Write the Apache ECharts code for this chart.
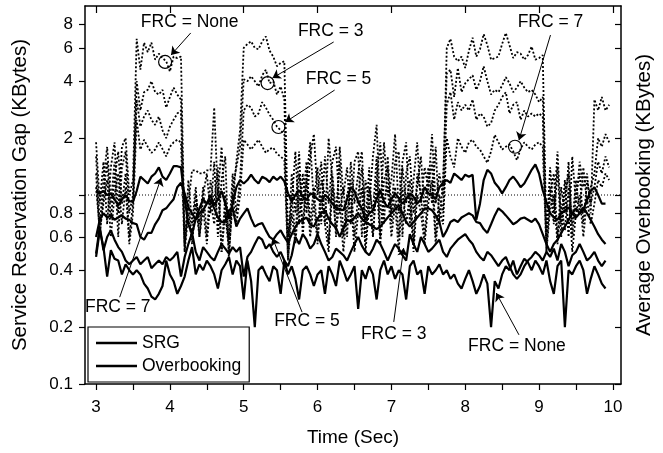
<!DOCTYPE html>
<html>
<head>
<meta charset="utf-8">
<script src="https://cdn.jsdelivr.net/npm/echarts@6.0.0/dist/echarts.min.js"></script>
<style>
  html, body { margin: 0; padding: 0; background: #fff; }
  #container { width: 663px; height: 453px; }
</style>
</head>
<body>
<div id="container"></div>
<script>
// sample times (Sec), one every 0.05 s from 3.00 to 9.95
var times = [];
for (var i = 0; i < 140; i++) times.push(Math.round((3 + i * 0.05) * 100) / 100);

// Overbooking (dotted), one row = 0.5 s
var ovNone = [
  1.9, 0.9, 1.5, 0.7, 1.4, 1.9, 0.8, 1.8, 2.0, 1.0,
  1.2, 6.7, 4.6, 6.4, 5.7, 6.4, 5.2, 5.6, 5.3, 5.1,
  4.5, 5.4, 5.3, 5.4, 0.55, 0.9, 1.35, 1.35, 1.3, 1.3,
  1.35, 1.35, 2.9, 1.0, 1.8, 0.8, 0.5, 0.9, 1.5, 2.2,
  6.0, 6.3, 6.5, 6.0, 5.9, 6.5, 6.9, 5.8, 5.4, 4.8,
  5.0, 5.1, 0.6, 0.9, 1.7, 0.7, 1.3, 0.8, 1.6, 2.1,
  1.0, 1.5, 0.7, 2.0, 1.2, 0.6, 1.8, 1.0, 1.4, 0.7,
  1.5, 1.7, 0.6, 1.2, 0.9, 1.6, 2.35, 0.8, 1.9, 1.0,
  1.2, 2.1, 0.8, 1.5, 1.9, 0.7, 1.2, 1.9, 0.9, 1.4,
  1.1, 2.1, 0.9, 1.3, 1.0, 6.0, 6.7, 5.4, 5.1, 5.4,
  4.7, 5.8, 6.8, 5.4, 5.9, 7.1, 6.2, 5.2, 5.3, 5.4,
  6.3, 7.2, 6.2, 5.3, 5.7, 5.6, 5.2, 5.5, 6.1, 5.2,
  5.3, 5.5, 0.6, 1.4, 0.8, 1.7, 0.7, 1.2, 0.6, 1.6,
  0.9, 1.5, 1.1, 1.3, 0.8, 3.2, 2.8, 3.3, 2.8, 3.0
];
var ov3 = [
  1.6, 0.7, 1.2, 1.8, 0.9, 1.5, 0.6, 1.4, 1.7, 0.8,
  1.0, 4.0, 2.8, 3.5, 3.6, 4.0, 3.5, 3.4, 3.6, 2.9,
  3.3, 3.7, 3.4, 3.2, 0.5, 1.2, 0.7, 1.1, 0.6, 1.0,
  1.3, 0.8, 1.5, 0.6, 1.2, 1.6, 0.45, 1.1, 1.4, 1.8,
  4.1, 4.0, 4.25, 4.0, 3.75, 4.3, 4.6, 3.9, 4.0, 3.4,
  3.75, 3.2, 0.5, 1.3, 0.8, 1.7, 0.6, 1.2, 1.9, 0.9,
  1.4, 0.7, 1.6, 0.9, 1.5, 1.8, 0.8, 1.1, 0.6, 1.5,
  0.9, 1.3, 1.7, 0.7, 1.4, 0.6, 1.2, 1.9, 0.7, 1.6,
  0.8, 1.5, 1.7, 0.6, 1.3, 1.6, 0.8, 1.1, 1.6, 0.8,
  1.4, 0.9, 1.8, 0.7, 1.2, 4.4, 4.6, 3.3, 4.7, 3.5,
  3.9, 4.1, 4.3, 3.6, 4.0, 4.8, 4.0, 3.4, 3.6, 3.5,
  3.8, 4.2, 3.9, 3.5, 3.7, 4.0, 3.7, 3.5, 3.6, 3.4,
  3.1, 3.3, 0.5, 1.1, 0.7, 1.4, 0.6, 1.0, 1.3, 0.7,
  1.2, 0.8, 1.4, 0.9, 1.1, 1.3, 2.0, 1.8, 2.1, 1.9
];
var ov5 = [
  1.3, 0.6, 1.0, 1.5, 0.75, 1.2, 1.7, 0.9, 1.3, 0.6,
  0.9, 3.2, 2.3, 2.6, 2.8, 2.5, 2.35, 2.6, 2.2, 2.0,
  2.3, 2.5, 2.7, 2.8, 0.55, 0.9, 0.6, 1.0, 0.7, 1.1,
  0.6, 1.2, 0.9, 1.4, 0.5, 1.0, 0.6, 1.3, 0.8, 1.2,
  2.8, 3.0, 2.9, 2.6, 2.7, 3.1, 2.9, 2.66, 2.5, 2.3,
  2.2, 2.1, 0.45, 1.0, 0.6, 1.3, 0.9, 1.5, 0.7, 1.1,
  0.6, 1.2, 1.0, 0.55, 1.3, 0.8, 1.5, 0.6, 1.0, 1.2,
  0.6, 1.0, 1.4, 0.55, 1.1, 0.8, 1.6, 0.6, 1.2, 1.4,
  0.7, 1.1, 0.6, 1.4, 0.9, 1.2, 0.55, 1.3, 1.0, 0.6,
  1.1, 1.5, 0.6, 1.0, 0.8, 3.0, 3.5, 2.5, 3.1, 2.8,
  3.0, 2.8, 3.2, 2.5, 2.7, 2.6, 2.3, 2.4, 2.8, 3.0,
  3.3, 3.5, 2.7, 3.0, 3.1, 2.5, 2.8, 2.6, 2.7, 2.6,
  2.7, 2.6, 0.55, 1.0, 1.3, 0.6, 1.1, 0.8, 1.5, 0.6,
  1.0, 1.3, 0.7, 1.2, 0.9, 1.1, 1.5, 1.3, 1.6, 1.4
];
var ov7 = [
  1.1, 0.65, 0.9, 1.2, 0.6, 1.0, 1.3, 0.7, 1.1, 0.55,
  0.8, 2.5, 1.74, 1.96, 1.8, 1.67, 1.74, 1.9, 1.75, 1.6,
  1.8, 1.9, 1.96, 1.9, 0.5, 0.8, 0.55, 0.9, 0.6, 0.85,
  0.55, 0.95, 0.7, 1.1, 0.5, 0.8, 0.55, 1.0, 0.7, 1.0,
  1.96, 1.85, 1.74, 1.85, 1.96, 1.8, 1.67, 1.75, 1.78, 1.65,
  1.6, 1.53, 0.45, 0.8, 0.55, 1.0, 0.7, 1.2, 0.6, 0.9,
  0.55, 1.0, 0.7, 0.5, 1.1, 0.65, 0.9, 0.5, 0.85, 1.0,
  0.5, 0.8, 1.1, 0.5, 0.9, 0.6, 1.2, 0.55, 0.95, 1.1,
  0.6, 0.9, 0.5, 1.1, 0.7, 1.0, 0.5, 1.0, 0.8, 0.55,
  0.9, 1.2, 0.55, 0.85, 0.7, 2.0, 1.6, 1.4, 2.0, 1.8,
  1.67, 1.9, 1.96, 1.8, 1.74, 1.6, 1.48, 1.7, 2.08, 1.9,
  1.74, 1.8, 1.85, 1.7, 1.53, 1.75, 1.9, 1.8, 1.74, 1.85,
  1.9, 1.8, 0.5, 0.85, 1.0, 0.55, 0.9, 0.65, 1.1, 0.5,
  0.8, 1.0, 0.6, 0.95, 0.7, 0.9, 1.2, 1.1, 1.3, 1.2
];

// Service Reservation Gap (solid)
var srg7 = [
  1.05, 1.02, 1.05, 1.0, 1.02, 0.95, 0.88, 0.95, 1.0, 0.93,
  0.92, 1.05, 1.25, 1.2, 1.15, 1.25, 1.3, 1.4, 1.25, 1.2,
  1.3, 1.42, 1.42, 1.4, 0.95, 0.7, 0.62, 0.75, 0.85, 0.95,
  0.9, 1.0, 0.88, 0.95, 1.05, 0.9, 0.75, 0.9, 1.1, 1.2,
  1.15, 1.2, 1.28, 1.2, 1.15, 1.25, 1.22, 1.17, 1.25, 1.2,
  1.25, 1.18, 1.02, 0.92, 1.0, 1.06, 0.98, 0.94, 1.02, 1.0,
  0.95, 0.92, 1.0, 0.96, 0.9, 0.86, 0.84, 0.83, 0.95, 1.1,
  1.05, 0.92, 0.85, 0.74, 0.8, 0.83, 0.95, 1.06, 0.92, 0.86,
  0.95, 1.02, 0.96, 0.9, 0.95, 1.02, 0.98, 0.9, 0.95, 1.1,
  1.02, 1.0, 0.95, 1.1, 1.16, 1.2, 1.16, 1.3, 1.25, 1.2,
  1.28, 1.25, 1.28, 0.74, 0.9, 1.2, 1.36, 1.3, 1.16, 1.1,
  1.02, 1.1, 1.2, 1.25, 1.18, 1.1, 1.15, 1.25, 1.36, 1.45,
  1.3, 1.06, 0.92, 0.8, 0.76, 0.74, 0.8, 0.83, 0.86, 0.8,
  0.76, 0.8, 0.83, 0.95, 1.05, 1.1, 1.0, 0.9, 0.9, null
];
var srg5 = [
  0.6, 0.74, 0.8, 0.76, 0.78, 0.74, 0.76, 0.78, 0.75, 0.74,
  0.71, 0.7, 0.6, 0.58, 0.63, 0.63, 0.7, 0.75, 0.83, 0.85,
  0.9, 0.95, 1.1, 1.16, 1.02, 0.86, 0.8, 0.74, 0.8, 0.83,
  0.9, 0.94, 0.85, 0.76, 0.72, 0.72, 0.83, 0.85, 0.68, 0.75,
  0.8, 0.85, 0.75, 0.68, 0.7, 0.71, 0.65, 0.6, 0.58, 0.62,
  0.65, 0.6, 0.56, 0.62, 0.68, 0.72, 0.74, 0.76, 0.7, 0.68,
  0.75, 0.8, 0.83, 0.75, 0.7, 0.67, 0.6, 0.67, 0.74, 0.72,
  0.76, 0.8, 0.75, 0.72, 0.7, 0.68, 0.66, 0.68, 0.72, 0.76,
  0.8, 0.84, 0.88, 0.8, 0.72, 0.68, 0.72, 0.76, 0.8, 0.85,
  0.85, 0.83, 0.78, 0.72, 0.6, 0.65, 0.72, 0.74, 0.72, 0.76,
  0.78, 0.8, 0.78, 0.72, 0.71, 0.66, 0.63, 0.7, 0.78, 0.85,
  0.82, 0.78, 0.74, 0.7, 0.72, 0.75, 0.76, 0.74, 0.72, 0.75,
  0.7, 0.62, 0.55, 0.5, 0.55, 0.58, 0.63, 0.68, 0.74, 0.8,
  0.85, 0.8, 0.86, 0.8, 0.74, 0.68, 0.62, 0.58, 0.55, null
];
var srg3 = [
  0.49, 0.68, 0.51, 0.6, 0.65, 0.58, 0.53, 0.5, 0.45, 0.43,
  0.45, 0.47, 0.43, 0.45, 0.47, 0.41, 0.43, 0.45, 0.43, 0.47,
  0.45, 0.47, 0.5, 0.37, 0.47, 0.55, 0.63, 0.5, 0.45, 0.53,
  0.5, 0.47, 0.45, 0.5, 0.55, 0.52, 0.49, 0.53, 0.5, 0.53,
  0.37, 0.47, 0.5, 0.55, 0.6, 0.58, 0.52, 0.55, 0.5, 0.47,
  0.5, 0.45, 0.42, 0.48, 0.6, 0.55, 0.62, 0.58, 0.52, 0.55,
  0.62, 0.55, 0.5, 0.45, 0.47, 0.52, 0.5, 0.48, 0.45, 0.5,
  0.55, 0.6, 0.54, 0.5, 0.48, 0.52, 0.58, 0.55, 0.5, 0.45,
  0.5, 0.55, 0.52, 0.48, 0.45, 0.62, 0.55, 0.5, 0.6, 0.55,
  0.5, 0.52, 0.55, 0.58, 0.5, 0.47, 0.52, 0.55, 0.58, 0.6,
  0.62, 0.58, 0.55, 0.5, 0.47, 0.45, 0.5, 0.48, 0.45, 0.42,
  0.45, 0.47, 0.42, 0.38, 0.36, 0.38, 0.42, 0.45, 0.47, 0.5,
  0.48, 0.45, 0.5, 0.47, 0.52, 0.45, 0.55, 0.5, 0.42, 0.48,
  0.5, 0.55, 0.5, 0.45, 0.47, 0.5, 0.45, 0.42, 0.45, null
];
var srgNone = [
  0.47, 0.65, 0.53, 0.37, 0.51, 0.46, 0.45, 0.38, 0.43, 0.4,
  0.38, 0.4, 0.38, 0.34, 0.32, 0.29, 0.28, 0.3, 0.33, 0.45,
  0.38, 0.35, 0.3, 0.33, 0.37, 0.45, 0.53, 0.38, 0.43, 0.4,
  0.45, 0.42, 0.38, 0.32, 0.4, 0.43, 0.47, 0.38, 0.45, 0.42,
  0.28, 0.45, 0.35, 0.2, 0.4, 0.42, 0.38, 0.35, 0.42, 0.4,
  0.3, 0.45, 0.38, 0.42, 0.36, 0.28, 0.4, 0.42, 0.38, 0.33,
  0.38, 0.4, 0.3, 0.42, 0.38, 0.33, 0.45, 0.4, 0.35, 0.38,
  0.42, 0.25, 0.4, 0.36, 0.42, 0.38, 0.28, 0.4, 0.45, 0.38,
  0.42, 0.36, 0.4, 0.38, 0.28, 0.42, 0.45, 0.38, 0.4, 0.3,
  0.42, 0.38, 0.4, 0.43, 0.38, 0.4, 0.36, 0.38, 0.34, 0.32,
  0.36, 0.4, 0.35, 0.3, 0.33, 0.38, 0.34, 0.2, 0.35, 0.32,
  0.38, 0.42, 0.4, 0.45, 0.38, 0.42, 0.46, 0.44, 0.4, 0.45,
  0.42, 0.38, 0.45, 0.35, 0.3, 0.42, 0.45, 0.2, 0.4, 0.38,
  0.42, 0.45, 0.4, 0.3, 0.36, 0.42, 0.38, 0.34, 0.32, null
];

// axis ticks
var xTicks = [3, 3.5, 4, 4.5, 5, 5.5, 6, 6.5, 7, 7.5, 8, 8.5, 9, 9.5, 10];
var xLabels = [3, 4, 5, 6, 7, 8, 9, 10];
var yTicks = [0.1, 0.2, 0.4, 0.6, 0.8, 1, 2, 4, 6, 8];
var yLabels = ["0.1", "0.2", "0.4", "0.6", "0.8", "", "2", "4", "6", "8"];

// annotations: [text, x, y]
var notes = [
  ["FRC = None", 4.268, 8.18],
  ["FRC = 3", 6.178, 7.38],
  ["FRC = 5", 6.284, 4.11],
  ["FRC = 7", 9.155, 8.18],
  ["FRC = 7", 3.294, 0.254],
  ["FRC = 5", 5.857, 0.215],
  ["FRC = 3", 7.032, 0.184],
  ["FRC = None", 8.701, 0.159]
];
// arrows: [x0, y0, x1, y1]
var arrows = [
  [4.282, 7.2, 4.015, 5.5],
  [6.218, 6.45, 5.39, 4.16],
  [6.231, 3.59, 5.563, 2.43],
  [9.155, 7.02, 8.728, 1.95],
  [3.32, 0.288, 3.881, 1.23],
  [5.79, 0.24, 5.39, 0.592],
  [7.032, 0.213, 7.166, 0.524],
  [8.728, 0.182, 8.42, 0.303]
];
var circles = [[3.935, 5.06], [5.323, 3.91], [5.47, 2.29], [8.674, 1.8]];
var refLevel = 1;

var FONT = "Liberation Sans, Arial, sans-serif";
var logTicks = yTicks.map(function (v) { return Math.log10(v); });

function pairs(vals) {
  var out = [];
  for (var i = 0; i < times.length; i++) {
    if (vals[i] != null) out.push([times[i], vals[i]]);
  }
  return out;
}

function yLabel(v) {
  for (var i = 0; i < logTicks.length; i++) {
    if (Math.abs(logTicks[i] - v) < 1e-6) return yLabels[i];
  }
  return "";
}

var myChart = echarts.init(document.getElementById("container"), null, { renderer: "canvas" });

var series = [];
[ovNone, ov3, ov5, ov7].forEach(function (d) {
  series.push({
    name: "Overbooking",
    type: "line",
    symbol: "none",
    data: pairs(d),
    itemStyle: { color: "#000" },
    lineStyle: { color: "#000", width: 1.8, type: [2, 2] },
    z: 2
  });
});
[srg7, srg5, srg3, srgNone].forEach(function (d) {
  series.push({
    name: "SRG",
    type: "line",
    symbol: "none",
    data: pairs(d),
    itemStyle: { color: "#000" },
    lineStyle: { color: "#000", width: 2.2 },
    z: 3
  });
});

// dotted reference line at 1, drawn as a two-point line across the plot
series.push({
  name: "ref",
  type: "line",
  symbol: "none",
  data: [[2.85, refLevel], [10.11, refLevel]],
  itemStyle: { color: "#000" },
  lineStyle: { color: "#000", width: 1, type: [1, 2] },
  z: 1
});

// arrows, circles and labels
series.push({
  name: "notes",
  type: "line",
  data: [],
  z: 5,
  itemStyle: { color: "#000" },
  markLine: {
    silent: true,
    symbol: ["none", "arrow"],
    symbolSize: 8,
    label: { show: false },
    lineStyle: { color: "#000", width: 1, type: "solid" },
    data: arrows.map(function (a) {
      return [{ coord: [a[0], a[1]] }, { coord: [a[2], a[3]] }];
    })
  },
  markPoint: {
    silent: true,
    data: circles.map(function (c) {
      return {
        coord: c,
        symbol: "circle",
        symbolSize: 13,
        itemStyle: { color: "rgba(0,0,0,0)", borderColor: "#000", borderWidth: 1.2 },
        label: { show: false }
      };
    }).concat(notes.map(function (n) {
      return {
        name: n[0],
        coord: [n[1], n[2]],
        symbol: "rect",
        symbolSize: 1,
        itemStyle: { color: "rgba(0,0,0,0)" },
        label: {
          show: true,
          position: "inside",
          formatter: "{b}",
          color: "#000",
          fontSize: 17.5,
          fontFamily: FONT
        }
      };
    }))
  }
});

myChart.setOption({
  animation: false,
  backgroundColor: "#fff",
  textStyle: { fontFamily: FONT, color: "#000" },
  grid: { left: 85, right: 35, top: 6, bottom: 69, containLabel: false },
  legend: {
    left: 88,
    top: 327,
    orient: "vertical",
    icon: "rect",
    itemWidth: 41,
    itemHeight: 2.5,
    itemGap: 5,
    padding: [7, 8, 7, 8],
    borderColor: "#000",
    borderWidth: 1.2,
    backgroundColor: "#fff",
    textStyle: { fontSize: 17.5, color: "#000", fontFamily: FONT },
    data: ["SRG", "Overbooking"]
  },
  xAxis: [
    {
      type: "value",
      position: "bottom",
      min: 2.85,
      max: 10.11,
      name: "Time (Sec)",
      nameLocation: "middle",
      nameGap: 44,
      nameTextStyle: { fontSize: 19, color: "#000", fontFamily: FONT },
      axisLine: { onZero: false, lineStyle: { color: "#000", width: 1.5 } },
      axisTick: { inside: false, length: 6, lineStyle: { color: "#000", width: 1.2 }, customValues: xTicks },
      axisLabel: { customValues: xLabels, margin: 15, fontSize: 17, color: "#000", fontFamily: FONT },
      splitLine: { show: false }
    },
    {
      type: "value",
      position: "top",
      min: 2.85,
      max: 10.11,
      axisLine: { onZero: false, lineStyle: { color: "#000", width: 1.5 } },
      axisTick: { inside: true, length: 7, lineStyle: { color: "#000", width: 1.2 }, customValues: xLabels },
      axisLabel: { show: false },
      splitLine: { show: false }
    }
  ],
  yAxis: [
    {
      type: "log",
      logBase: 10,
      min: 0.1,
      max: 10,
      show: false
    },
    {
      type: "value",
      position: "left",
      min: -1,
      max: 1,
      name: "Service Reservation Gap (KBytes)",
      nameLocation: "middle",
      nameRotate: 90,
      nameGap: 54,
      nameTextStyle: { fontSize: 20.5, color: "#000", fontFamily: FONT },
      axisLine: { show: true, onZero: false, lineStyle: { color: "#000", width: 1.5 } },
      axisTick: { inside: false, length: 6, lineStyle: { color: "#000", width: 1.2 }, customValues: logTicks },
      axisLabel: { customValues: logTicks, margin: 12, fontSize: 17, color: "#000", fontFamily: FONT, formatter: yLabel },
      splitLine: { show: false }
    },
    {
      type: "value",
      position: "right",
      min: -1,
      max: 1,
      name: "Average Overbooking (KBytes)",
      nameLocation: "middle",
      nameRotate: 90,
      nameGap: 13,
      nameTextStyle: { fontSize: 20.5, color: "#000", fontFamily: FONT },
      axisLine: { show: true, onZero: false, lineStyle: { color: "#000", width: 1.5 } },
      axisTick: { inside: true, length: 6, lineStyle: { color: "#000", width: 1.2 }, customValues: logTicks },
      axisLabel: { show: false },
      splitLine: { show: false }
    }
  ],
  series: series
});
</script>
</body>
</html>
